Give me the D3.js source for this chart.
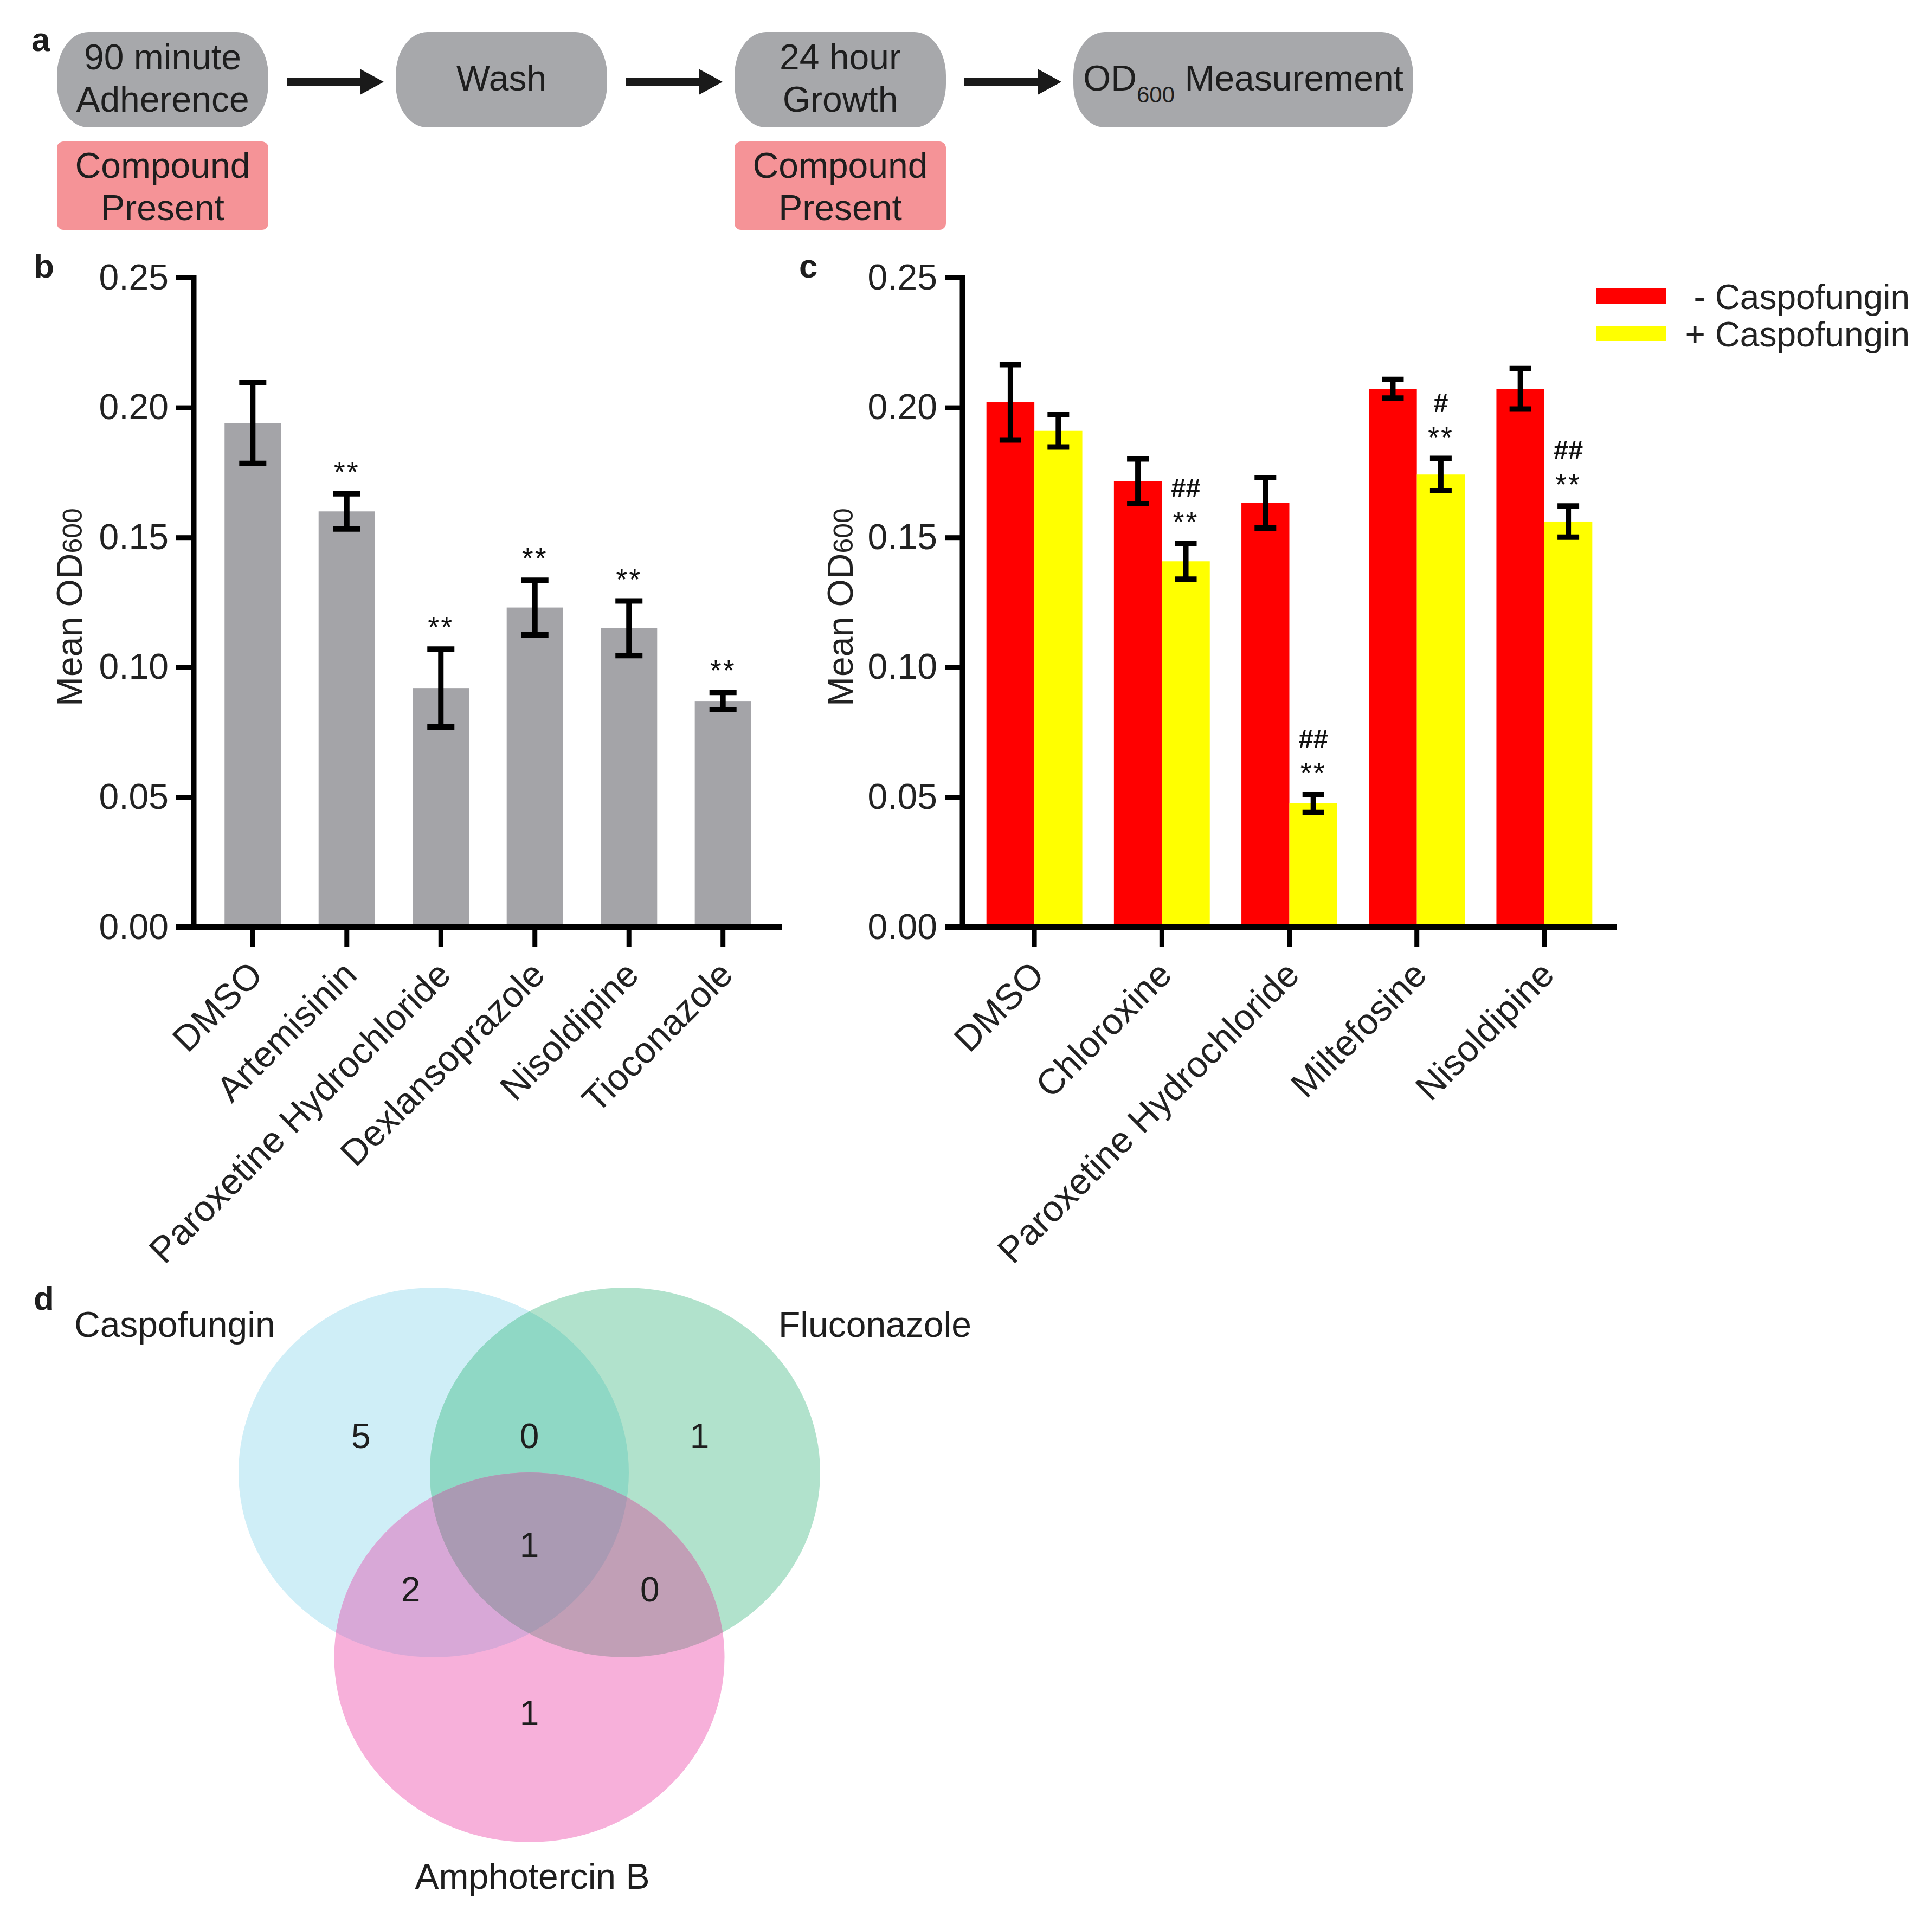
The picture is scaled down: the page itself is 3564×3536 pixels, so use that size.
<!DOCTYPE html>
<html>
<head>
<meta charset="utf-8">
<script src="https://cdn.jsdelivr.net/npm/d3@7"></script>
<style>
  body { margin: 0; background: #fff; }
</style>
</head>
<body>
<script>
// ---------- data ----------
const flowSteps = [["90 minute", "Adherence"], ["Wash"], ["24 hour", "Growth"], ["OD{600} Measurement"]]
const compoundPresent = [true, false, true, false]
const compoundText = ["Compound", "Present"]

const yTicks = [0, 0.05, 0.10, 0.15, 0.20, 0.25]

const bCompounds = ["DMSO", "Artemisinin", "Paroxetine Hydrochloride", "Dexlansoprazole", "Nisoldipine", "Tioconazole"]
const bMeans = [0.194, 0.160, 0.092, 0.123, 0.115, 0.087]
const bErrors = [0.0155, 0.0068, 0.015, 0.0105, 0.0105, 0.0033]
const bMarks = ["", "**", "**", "**", "**", "**"]

const cCompounds = ["DMSO", "Chloroxine", "Paroxetine Hydrochloride", "Miltefosine", "Nisoldipine"]
const cSeries = ["- Caspofungin", "+ Caspofungin"]
const cMinus = [0.202, 0.1716, 0.1633, 0.2072, 0.2072]
const cMinusErr = [0.0145, 0.0086, 0.0097, 0.0036, 0.0078]
const cPlus = [0.191, 0.1408, 0.0476, 0.1742, 0.1561]
const cPlusErr = [0.0062, 0.0069, 0.0035, 0.0062, 0.006]
const cStars = ["", "**", "**", "**", "**"]
const cHashes = ["", "##", "##", "#", "##"]

const vennSets = ["Caspofungin", "Fluconazole", "Amphotercin B"]
const vennRegions = ["C", "F", "CF", "CA", "CFA", "FA", "A"]
const vennCounts = [5, 1, 0, 2, 1, 0, 1]

// ---------- setup ----------
const FONT = '"Liberation Sans", Arial, Helvetica, sans-serif'
const INK = "#1e1e1e"

const svg = d3.select("body").append("svg")
    .attr("width", 3564)
    .attr("height", 3536)
    .style("background", "#fff")
    .attr("font-family", FONT)

const panelLabel = (txt, x, y) => {
  svg.append("text")
    .attr("x", x).attr("y", y)
    .attr("font-size", 62)
    .attr("font-weight", "bold")
    .attr("fill", INK)
    .text(txt)
}

// ---------- panel a: workflow ----------
panelLabel("a", 58, 94)

const flow = svg.append("g")
const stepLeft = d3.scaleLinear().domain([0, flowSteps.length - 1]).range([105, 1980])
const boxTop = 59, boxH = 176, boxMid = boxTop + boxH / 2
const boxRight = []

flowSteps.forEach((lines, i) => {
  const g = flow.append("g")
  const rect = g.append("rect")
  const t = g.append("text")
      .attr("text-anchor", "middle")
      .attr("font-size", 66)
      .attr("fill", INK)

  const lineNodes = lines.map((line, k) => {
    const base = boxMid + 20 + (k - (lines.length - 1) / 2) * 78
    const lt = t.append("tspan").attr("x", 0).attr("y", base)
    // parts in braces are subscripts
    line.split(/[{}]/).forEach((part, j) => {
      const sp = lt.append("tspan").text(part)
      if (j % 2 === 1) sp.attr("font-size", 42).attr("dy", 22)
      else if (j > 0) sp.attr("dy", -22)
    })
    return lt
  })

  const textW = d3.max(lineNodes, lt => lt.node().getComputedTextLength())
  const w = Math.max(390, textW + 36)
  const x0 = stepLeft(i)
  boxRight.push(x0 + w)
  lineNodes.forEach(lt => lt.attr("x", x0 + w / 2))

  rect.attr("x", x0).attr("y", boxTop)
      .attr("width", w).attr("height", boxH)
      .attr("rx", 58).attr("ry", 80)
      .attr("fill", "#a7a8ab")

  if (compoundPresent[i]) {
    const pg = flow.append("g")
    pg.append("rect")
      .attr("x", x0).attr("y", 261)
      .attr("width", w).attr("height", 163)
      .attr("rx", 12)
      .attr("fill", "#f59397")
    pg.append("text")
      .attr("text-anchor", "middle")
      .attr("font-size", 66)
      .attr("fill", INK)
      .selectAll("tspan")
      .data(compoundText)
      .join("tspan")
        .attr("x", x0 + w / 2)
        .attr("y", (d, k) => 367 + (k - 0.5) * 78)
        .text(d => d)
  }
})

// arrows between steps
d3.range(flowSteps.length - 1).forEach(i => {
  const xs = boxRight[i] + 34
  const xe = stepLeft(i + 1) - 22
  const yc = 151
  const head = 44, shaft = 7
  flow.append("polygon")
    .attr("points", [
      [xs, yc - shaft], [xe - head, yc - shaft], [xe - head, yc - 24],
      [xe, yc], [xe - head, yc + 24], [xe - head, yc + shaft], [xs, yc + shaft]
    ].map(p => p.join(",")).join(" "))
    .attr("fill", "#1a1a1a")
})

// ---------- shared axis helpers ----------
const styleY = g => {
  g.attr("font-size", 66).attr("font-family", FONT)
  g.select(".domain").attr("stroke", "#000").attr("stroke-width", 10).attr("stroke-linecap", "square")
  g.selectAll(".tick line").attr("stroke", "#000").attr("stroke-width", 9)
  g.selectAll(".tick text").attr("fill", "#222")
}

const styleX = g => {
  g.attr("font-size", 67).attr("font-family", FONT)
  g.select(".domain").remove()
  g.selectAll(".tick line").attr("stroke", "#000").attr("stroke-width", 9)
  g.selectAll(".tick text")
    .attr("fill", "#222")
    .attr("y", 0)
    .attr("dy", 0)
    .attr("text-anchor", "end")
    .attr("transform", "translate(22,92) rotate(-45)")
}

const yLabel = (x, y) => {
  const t = svg.append("text")
    .attr("transform", `translate(${x},${y}) rotate(-90)`)
    .attr("text-anchor", "middle")
    .attr("font-size", 66)
    .attr("fill", "#222")
  t.append("tspan").text("Mean OD")
  t.append("tspan").attr("font-size", 50).text("600")
}

const errorBars = (g, rows, yScale, capW) => {
  const eb = g.selectAll("g.err").data(rows).join("g").attr("class", "err")
  eb.append("line")
    .attr("x1", d => d.x).attr("x2", d => d.x)
    .attr("y1", d => yScale(d.m - d.e)).attr("y2", d => yScale(d.m + d.e))
  eb.append("line")
    .attr("x1", d => d.x - capW / 2).attr("x2", d => d.x + capW / 2)
    .attr("y1", d => yScale(d.m + d.e)).attr("y2", d => yScale(d.m + d.e))
  eb.append("line")
    .attr("x1", d => d.x - capW / 2).attr("x2", d => d.x + capW / 2)
    .attr("y1", d => yScale(d.m - d.e)).attr("y2", d => yScale(d.m - d.e))
  eb.selectAll("line").attr("stroke", "#000").attr("stroke-width", 10)
}

// ---------- panel b ----------
panelLabel("b", 62, 512)

const yB = d3.scaleLinear().domain([0, 0.25]).range([1710, 512])
const xB = d3.scaleBand().domain(bCompounds).range([357, 1443]).paddingInner(0.4).paddingOuter(0.33)

const gb = svg.append("g")

gb.selectAll("rect.bar")
  .data(bCompounds)
  .join("rect")
    .attr("class", "bar")
    .attr("x", d => xB(d))
    .attr("y", (d, i) => yB(bMeans[i]))
    .attr("width", xB.bandwidth())
    .attr("height", (d, i) => yB(0) - yB(bMeans[i]))
    .attr("fill", "#a4a4a8")

errorBars(gb, bCompounds.map((d, i) => ({x: xB(d) + xB.bandwidth() / 2, m: bMeans[i], e: bErrors[i]})), yB, 50)

gb.selectAll("text.sig")
  .data(bCompounds)
  .join("text")
    .attr("class", "sig")
    .attr("x", d => xB(d) + xB.bandwidth() / 2)
    .attr("y", (d, i) => yB(bMeans[i] + bErrors[i]) - 22)
    .attr("text-anchor", "middle")
    .attr("font-size", 54)
    .attr("letter-spacing", 3)
    .attr("fill", "#111")
    .text((d, i) => bMarks[i])

svg.append("g")
  .attr("transform", "translate(357,0)")
  .call(d3.axisLeft(yB).tickValues(yTicks).tickFormat(d3.format(".2f")).tickSize(32).tickPadding(14).tickSizeOuter(0))
  .call(styleY)

svg.append("line")
  .attr("x1", 325).attr("x2", 1443)
  .attr("y1", yB(0)).attr("y2", yB(0))
  .attr("stroke", "#000").attr("stroke-width", 10)

svg.append("g")
  .attr("transform", `translate(0,${yB(0)})`)
  .call(d3.axisBottom(xB).tickSize(37).tickSizeOuter(0))
  .call(styleX)

yLabel(151, 1120)

// ---------- panel c ----------
panelLabel("c", 1474, 512)

const yC = d3.scaleLinear().domain([0, 0.25]).range([1710, 512])
const xC = d3.scaleBand().domain(cCompounds).range([1775, 2982]).paddingInner(0.248).paddingOuter(0.19)
const xSub = d3.scaleBand().domain(cSeries).range([0, xC.bandwidth()])
const cColors = d3.scaleOrdinal().domain(cSeries).range(["#ff0000", "#ffff00"])

const cRows = []
cCompounds.forEach((c, i) => {
  cRows.push({c, s: cSeries[0], m: cMinus[i], e: cMinusErr[i]})
  cRows.push({c, s: cSeries[1], m: cPlus[i], e: cPlusErr[i]})
})
cRows.forEach(r => { r.x = xC(r.c) + xSub(r.s) + xSub.bandwidth() / 2 })

const gc = svg.append("g")

gc.selectAll("rect.bar")
  .data(cRows)
  .join("rect")
    .attr("class", "bar")
    .attr("x", d => xC(d.c) + xSub(d.s))
    .attr("y", d => yC(d.m))
    .attr("width", xSub.bandwidth())
    .attr("height", d => yC(0) - yC(d.m))
    .attr("fill", d => cColors(d.s))

errorBars(gc, cRows, yC, 40)

const plusRows = cRows.filter(r => r.s === cSeries[1])
gc.selectAll("text.star")
  .data(plusRows)
  .join("text")
    .attr("class", "star")
    .attr("x", d => d.x)
    .attr("y", d => yC(d.m + d.e) - 21)
    .attr("text-anchor", "middle")
    .attr("font-size", 54)
    .attr("letter-spacing", 3)
    .attr("fill", "#111")
    .text((d, i) => cStars[i])

gc.selectAll("text.hash")
  .data(plusRows)
  .join("text")
    .attr("class", "hash")
    .attr("x", d => d.x)
    .attr("y", d => yC(d.m + d.e) - 86)
    .attr("text-anchor", "middle")
    .attr("font-size", 49)
    .attr("font-weight", "bold")
    .attr("fill", "#111")
    .text((d, i) => cHashes[i])

svg.append("g")
  .attr("transform", "translate(1775,0)")
  .call(d3.axisLeft(yC).tickValues(yTicks).tickFormat(d3.format(".2f")).tickSize(32).tickPadding(14).tickSizeOuter(0))
  .call(styleY)

svg.append("line")
  .attr("x1", 1743).attr("x2", 2982)
  .attr("y1", yC(0)).attr("y2", yC(0))
  .attr("stroke", "#000").attr("stroke-width", 10)

svg.append("g")
  .attr("transform", `translate(0,${yC(0)})`)
  .call(d3.axisBottom(xC).tickSize(37).tickSizeOuter(0))
  .call(styleX)

yLabel(1573, 1120)

// legend
const legend = svg.append("g")
cSeries.forEach((s, i) => {
  legend.append("rect")
    .attr("x", 2945).attr("y", 532 + i * 69)
    .attr("width", 128).attr("height", 28)
    .attr("fill", cColors(s))
  legend.append("text")
    .attr("x", 3523).attr("y", 570 + i * 69)
    .attr("text-anchor", "end")
    .attr("font-size", 64)
    .attr("fill", "#222")
    .text(s)
})

// ---------- panel d: venn ----------
panelLabel("d", 62, 2416)

const venn = svg.append("g")
const vx = d3.scaleLinear().domain([-0.5, 0.5]).range([800, 1153])
const vy = d3.scaleLinear().domain([0, 1]).range([2716, 3057])
const rx = 360, ry = 341
const centers = {C: [vx(-0.5), vy(0)], F: [vx(0.5), vy(0)], A: [vx(0), vy(1)]}
const regionFill = {C: "#cfeef7", F: "#b1e2cc", A: "#f7b0da", CF: "#8fd8c5", CA: "#d8a8d7", FA: "#c19fb6", CFA: "#aa9ab3"}

const defs = svg.append("defs")
Object.entries(centers).forEach(([k, c]) => {
  defs.append("clipPath").attr("id", "clip-" + k)
    .append("ellipse").attr("cx", c[0]).attr("cy", c[1]).attr("rx", rx).attr("ry", ry)
})

const ell = (g, k, fill) => g.append("ellipse")
    .attr("cx", centers[k][0]).attr("cy", centers[k][1])
    .attr("rx", rx).attr("ry", ry)
    .attr("fill", fill)

ell(venn, "C", regionFill.C)
ell(venn, "F", regionFill.F)
ell(venn, "A", regionFill.A)
ell(venn.append("g").attr("clip-path", "url(#clip-C)"), "F", regionFill.CF)
ell(venn.append("g").attr("clip-path", "url(#clip-C)"), "A", regionFill.CA)
ell(venn.append("g").attr("clip-path", "url(#clip-F)"), "A", regionFill.FA)
ell(venn.append("g").attr("clip-path", "url(#clip-C)").append("g").attr("clip-path", "url(#clip-F)"), "A", regionFill.CFA)

// label position of each region, in venn units
const regionPos = {C: [-0.88, -0.2], CF: [0, -0.2], F: [0.89, -0.2], CFA: [0, 0.39], CA: [-0.62, 0.63], FA: [0.63, 0.63], A: [0, 1.3]}

venn.selectAll("text.count")
  .data(vennRegions)
  .join("text")
    .attr("class", "count")
    .attr("x", d => vx(regionPos[d][0]))
    .attr("y", d => vy(regionPos[d][1]) + 23)
    .attr("text-anchor", "middle")
    .attr("font-size", 64)
    .attr("fill", INK)
    .text((d, i) => vennCounts[i])

const setLabelPos = [[137, 2466, "start"], [1436, 2466, "start"], [982, 3484, "middle"]]
venn.selectAll("text.set")
  .data(vennSets)
  .join("text")
    .attr("class", "set")
    .attr("x", (d, i) => setLabelPos[i][0])
    .attr("y", (d, i) => setLabelPos[i][1])
    .attr("text-anchor", (d, i) => setLabelPos[i][2])
    .attr("font-size", 66)
    .attr("fill", INK)
    .text(d => d)
</script>
</body>
</html>
